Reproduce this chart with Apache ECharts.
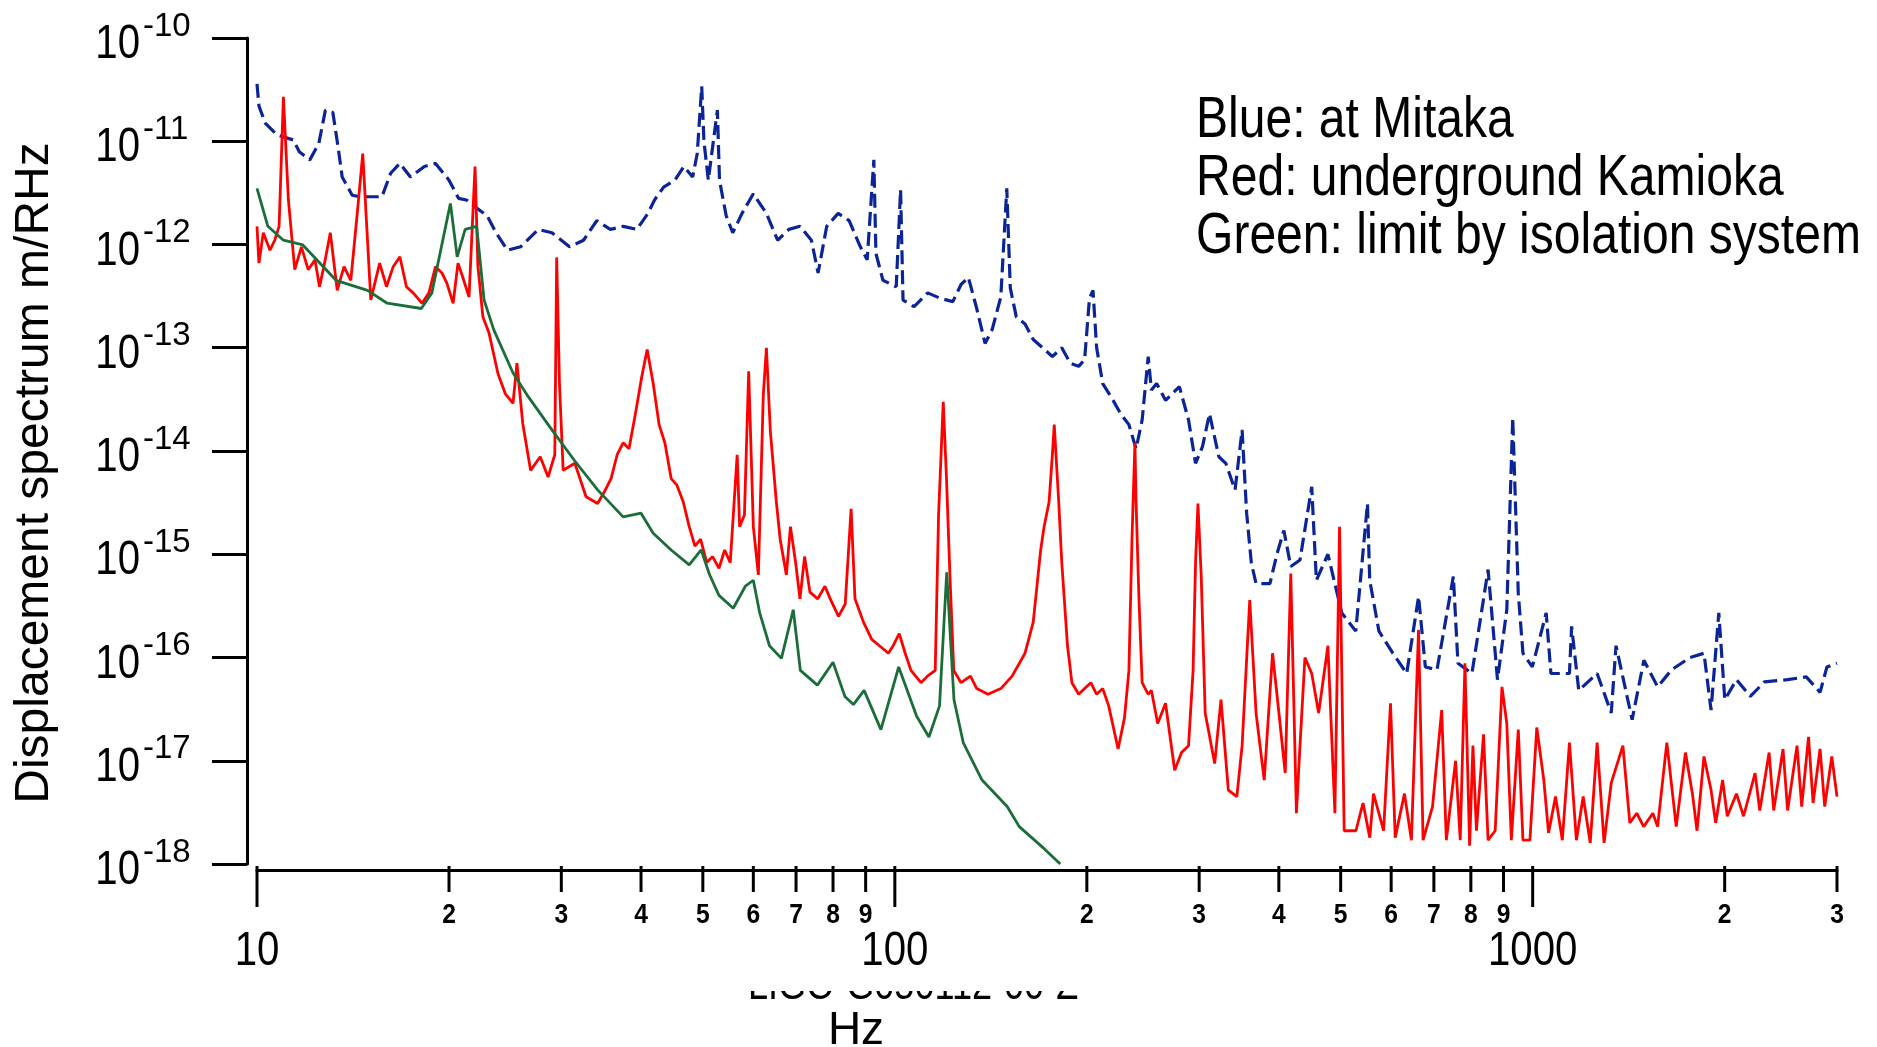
<!DOCTYPE html>
<html>
<head>
<meta charset="utf-8">
<script src="https://cdn.jsdelivr.net/npm/echarts@6/dist/echarts.min.js"></script>
<style>html,body{margin:0;padding:0;background:#fff}#c{width:1877px;height:1047px}</style>
</head>
<body>
<div id="c"></div>
<script>
const SANS = '"Liberation Sans",Arial,sans-serif';

const xRange = [10, 3000];
const yRange = [1e-18, 1e-10];
const xTickFreqs = [10, 20, 30, 40, 50, 60, 70, 80, 90, 100, 200, 300, 400, 500, 600, 700, 800, 900, 1000, 2000, 3000];
const yTickValues = [1e-18, 1e-17, 1e-16, 1e-15, 1e-14, 1e-13, 1e-12, 1e-11, 1e-10];
const legendLines = ['Blue: at Mitaka', 'Red: underground Kamioka', 'Green: limit by isolation system'];
const yTitle = 'Displacement spectrum m/RHz';
const xTitle = 'Hz';
const docId = 'LIGO-G050112-00-Z';

const blueFreq = [10.0, 10.07, 10.3, 10.75, 11.4, 11.65, 12.1, 12.5, 12.8, 13.15,
 13.4, 13.6, 14.1, 14.5, 15.7, 16.2, 16.75, 17.4, 18.3, 19.05,
 20.0, 20.7, 21.3, 22.0, 22.95, 23.7, 24.7, 25.9, 27.6, 29.0,
 30.9, 32.5, 34.1, 35.8, 37.5, 39.4, 41.0, 42.0, 43.4, 45.2,
 46.7, 48.2, 49.0, 49.8, 50.2, 51.0, 52.7, 53.1, 54.4, 55.7,
 57.6, 60.0, 62.9, 65.5, 68.2, 71.0, 74.0, 75.8, 78.2, 81.5,
 84.8, 88.3, 90.5, 92.7, 93.4, 95.8, 100.5, 102.1, 103, 107.2,
 112.6, 118, 123.3, 127, 130.4, 134.4, 138.5, 142.1, 146.6, 149.8,
 151.7, 155, 160, 164.8, 170.5, 176.6, 182.7, 188.4, 194.2, 198.4,
 201.9, 204.5, 207.2, 211.8, 219.2, 225.9, 232.8, 238.9, 244.2, 249.6,
 252.5, 257.3, 265.7, 279.3, 288.7, 296.1, 303.6, 311.4, 322.1, 330.3,
 341.5, 350.3, 356.1, 362.2, 368.4, 387.3, 397.2, 407.3, 417.6, 431.7,
 450.4, 458, 477.5, 502, 528, 550.8, 555.3, 574.1, 603.6, 634.6,
 662.4, 678.8, 707.9, 751, 763.6, 803, 830.9, 851.3, 880.7, 910.8,
 930.6, 949.3, 965.5, 998.7, 1050, 1068, 1142, 1151, 1181, 1262,
 1328, 1351, 1432, 1494, 1570, 1651, 1765, 1856, 1904, 1958,
 2001, 2087, 2194, 2308, 2510, 2685, 2822, 2893, 3000];
const blueAmp = [3.6e-11, 2.2e-11, 1.5e-11, 1.15e-11, 1.03e-11, 7.9e-12, 6.6e-12, 9.5e-12, 2.0e-11, 1.9e-11,
 8.8e-12, 4.5e-12, 3.0e-12, 2.9e-12, 2.9e-12, 4.9e-12, 6.1e-12, 4.5e-12, 5.7e-12, 6.1e-12,
 4.2e-12, 2.8e-12, 2.7e-12, 2.3e-12, 1.9e-12, 1.3e-12, 8.8e-13, 9.5e-13, 1.4e-12, 1.3e-12,
 9.5e-13, 1.1e-12, 1.7e-12, 1.4e-12, 1.5e-12, 1.4e-12, 2.0e-12, 2.7e-12, 3.6e-12, 4.2e-12,
 5.7e-12, 4.5e-12, 7.6e-12, 3.4e-11, 1.0e-11, 4.2e-12, 2.0e-11, 4.2e-12, 1.9e-12, 1.3e-12,
 2.0e-12, 3.1e-12, 2.0e-12, 1.1e-12, 1.4e-12, 1.5e-12, 1.1e-12, 5.3e-13, 1.5e-12, 2.0e-12,
 1.7e-12, 9.5e-13, 7.1e-13, 6.6e-12, 8.2e-13, 4.5e-13, 3.9e-13, 3.4e-12, 2.9e-13, 2.5e-13,
 3.4e-13, 3.0e-13, 2.8e-13, 4.1e-13, 4.8e-13, 2.4e-13, 1.1e-13, 1.5e-13, 3.1e-13, 3.5e-12,
 3.8e-13, 2.0e-13, 1.7e-13, 1.2e-13, 1.0e-13, 8.2e-14, 1.0e-13, 7.1e-14, 6.6e-14, 7.7e-14,
 3.0e-13, 3.6e-13, 1.0e-13, 4.5e-14, 3.2e-14, 2.3e-14, 1.8e-14, 1.05e-14, 2.0e-14, 8.2e-14,
 3.9e-14, 4.5e-14, 3.1e-14, 4.2e-14, 2.0e-14, 7.6e-15, 1.1e-14, 2.3e-14, 8.8e-15, 7.6e-15,
 4.2e-15, 1.6e-14, 2.5e-15, 8.2e-16, 5.2e-16, 5.2e-16, 1.0e-15, 1.7e-15, 7.6e-16, 8.8e-16,
 4.5e-15, 5.6e-16, 1.0e-15, 2.7e-16, 1.8e-16, 3.1e-15, 5.6e-16, 1.8e-16, 1.1e-16, 7.0e-17,
 3.9e-16, 8.1e-17, 7.6e-17, 6.1e-16, 8.8e-17, 7.0e-17, 2.7e-16, 7.1e-16, 6.1e-17, 2.9e-16,
 2.1e-14, 4.2e-16, 1.1e-16, 8.1e-17, 2.7e-16, 7.0e-17, 7.0e-17, 2.0e-16, 4.8e-17, 7.0e-17,
 2.9e-17, 1.3e-16, 2.5e-17, 9.4e-17, 5.2e-17, 7.6e-17, 1.0e-16, 1.1e-16, 3.1e-17, 2.7e-16,
 3.9e-17, 6.1e-17, 4.2e-17, 5.8e-17, 6.1e-17, 6.5e-17, 4.6e-17, 8.1e-17, 8.8e-17];

const redFreq = [10.0, 10.07, 10.23, 10.48, 10.66, 10.83, 11.0, 11.2, 11.46, 11.74,
 12.03, 12.33, 12.53, 12.73, 13.03, 13.36, 13.69, 14.03, 14.36, 14.65,
 14.83, 15.08, 15.57, 15.96, 16.35, 16.75, 17.15, 17.57, 18.15, 18.6,
 19.05, 19.5, 19.85, 20.3, 20.66, 21.0, 21.5, 21.97, 22.2, 22.6,
 23.1, 23.87, 24.5, 25.2, 25.56, 26.1, 26.85, 27.8, 28.6, 29.3,
 29.5, 29.8, 30.2, 31.5, 32.8, 34.2, 35.1, 35.9, 36.7, 37.5,
 38.3, 39.2, 40.1, 40.9, 41.8, 42.7, 43.6, 44.6, 45.5, 46.6,
 47.6, 48.6, 49.6, 50.7, 51.8, 53.0, 54.1, 55.2, 56.6, 57.1,
 58.1, 59.0, 60.0, 61.1, 62.2, 62.9, 63.8, 65.2, 66.1, 67.6,
 68.6, 69.9, 71.0, 72.2, 73.6, 75.7, 77.7, 79.2, 81.6, 83.6,
 85.4, 86.6, 89.3, 92.0, 94.6, 97.7, 99.4, 101.6, 103.8, 106,
 109.9, 112.5, 115.7, 117.1, 119.1, 120.5, 122, 123.7, 127, 131.4,
 134.4, 140, 146.6, 152.7, 160, 164.8, 169.3, 171.4, 174.5, 176.6,
 177.8, 180.7, 182.7, 186.5, 189.5, 194.2, 198.4, 202.9, 207.2, 211.8,
 216.4, 223.9, 229.1, 232.8, 235.4, 237.9, 238.9, 241.4, 244.2, 249.6,
 252.5, 258.3, 265.7, 274.6, 281.5, 288.7, 293.5, 296.1, 298.7, 302.2,
 306.6, 317.3, 324.6, 333.3, 343.7, 350.3, 360.1, 368.4, 379.4, 391,
 400.1, 409.3, 417.6, 426.2, 431.7, 439.5, 450.4, 461.8, 477.5, 489.7,
 498.0, 506.4, 528.3, 542.0, 555.4, 563, 583.8, 598.6, 608.8, 629.5, 645.5,
 662.3, 673.3, 696.6, 720.0, 732.2, 757.1, 769.9, 783.1, 796.4, 806, 816.3,
 837.4, 851.3, 873.4, 895.1, 910.8, 925.9, 949.4, 965.5, 990.1, 1015,
 1041, 1059, 1086, 1113, 1142, 1171, 1200, 1231, 1262, 1294,
 1328, 1385, 1420, 1456, 1493, 1543, 1570, 1623, 1679, 1736,
 1780, 1810, 1856, 1904, 1936, 1985, 2019, 2087, 2141, 2232,
 2270, 2348, 2387, 2469, 2510, 2597, 2641, 2707, 2752, 2822,
 2870, 2944, 3000];
const redAmp = [1.5e-12, 6.6e-13, 1.3e-12, 8.8e-13, 1.1e-12, 1.5e-12, 2.7e-11, 2.7e-12, 5.7e-13, 9.5e-13,
 5.7e-13, 7.1e-13, 3.9e-13, 6.1e-13, 1.3e-12, 3.6e-13, 6.1e-13, 4.5e-13, 2.0e-12, 7.6e-12,
 1.9e-12, 2.9e-13, 6.6e-13, 3.9e-13, 6.1e-13, 7.6e-13, 3.9e-13, 3.4e-13, 2.7e-13, 3.4e-13,
 6.1e-13, 5.3e-13, 4.2e-13, 2.7e-13, 6.6e-13, 4.9e-13, 3.1e-13, 5.7e-12, 6.1e-13, 2.0e-13,
 1.4e-13, 5.6e-14, 3.6e-14, 2.9e-14, 7.1e-14, 1.85e-14, 6.5e-15, 8.8e-15, 5.6e-15, 9.2e-15,
 7.5e-13, 4.5e-14, 6.5e-15, 7.6e-15, 3.6e-15, 3.1e-15, 4.1e-15, 5.4e-15, 9.2e-15, 1.2e-14,
 1.05e-14, 2.3e-14, 5.2e-14, 9.6e-14, 4.5e-14, 1.8e-14, 1.2e-14, 5.4e-15, 4.7e-15, 3.2e-15,
 1.85e-15, 1.2e-15, 1.4e-15, 8.3e-16, 9.5e-16, 7.3e-16, 1.1e-15, 8.3e-16, 9.2e-15, 1.85e-15,
 2.4e-15, 5.9e-14, 1.85e-15, 6.3e-16, 3.5e-14, 1.0e-13, 1.56e-14, 3.2e-15, 1.4e-15, 6.3e-16,
 1.85e-15, 8.3e-16, 3.7e-16, 9.5e-16, 4.3e-16, 3.7e-16, 4.9e-16, 3.7e-16, 2.5e-16, 3.3e-16,
 2.75e-15, 3.7e-16, 2.2e-16, 1.5e-16, 1.3e-16, 1.1e-16, 1.3e-16, 1.7e-16, 1.1e-16, 7.5e-17,
 5.7e-17, 6.6e-17, 7.5e-17, 2.4e-15, 3.0e-14, 5.4e-15, 6.3e-16, 7.5e-17, 5.7e-17, 6.6e-17,
 5.0e-17, 4.4e-17, 5.0e-17, 6.6e-17, 1.1e-16, 2.2e-16, 1.1e-15, 1.85e-15, 3.2e-15, 9.2e-15,
 1.8e-14, 3.2e-15, 8.3e-16, 1.3e-16, 5.7e-17, 4.4e-17, 5.0e-17, 5.7e-17, 4.4e-17, 5.0e-17,
 3.4e-17, 1.3e-17, 2.6e-17, 7.5e-17, 1.4e-15, 1.2e-14, 3.2e-15, 3.7e-16, 5.7e-17, 4.4e-17,
 4.8e-17, 2.3e-17, 3.6e-17, 8.1e-18, 1.2e-17, 1.4e-17, 7.5e-17, 8.3e-16, 3.1e-15, 6.3e-16,
 2.9e-17, 9.4e-18, 3.9e-17, 5.2e-18, 4.5e-18, 1.4e-17, 3.6e-16, 2.9e-17, 6.5e-18, 1.1e-16,
 2.9e-17, 7.6e-18, 6.5e-16, 3.1e-18, 1.4e-17, 1.0e-16, 7.0e-17, 2.9e-17, 1.3e-16, 3.1e-18,
 1.85e-15, 2.1e-18, 2.1e-18, 3.9e-18, 1.8e-18, 4.8e-18, 2.1e-18, 3.6e-17, 1.8e-18, 4.8e-18, 1.7e-18,
 1.85e-16, 1.7e-18, 3.6e-18, 3.1e-17, 1.7e-18, 1.0e-17, 1.7e-18, 8.8e-17, 1.5e-18, 1.4e-17, 2.1e-18,
 1.8e-17, 1.7e-18, 2.1e-18, 5.2e-17, 2.3e-17, 1.7e-18, 2.0e-17, 1.7e-18, 1.7e-18, 2.1e-17,
 6.5e-18, 2.0e-18, 4.5e-18, 1.7e-18, 1.5e-17, 1.7e-18, 4.5e-18, 1.6e-18, 1.5e-17, 1.6e-18,
 6.1e-18, 1.4e-17, 2.5e-18, 3.1e-18, 2.3e-18, 3.1e-18, 2.3e-18, 1.5e-17, 2.3e-18, 1.2e-17,
 4.8e-18, 2.1e-18, 1.1e-17, 5.2e-18, 2.5e-18, 6.5e-18, 2.9e-18, 4.8e-18, 2.9e-18, 7.6e-18,
 3.3e-18, 1.2e-17, 3.3e-18, 1.3e-17, 3.3e-18, 1.4e-17, 3.6e-18, 1.7e-17, 3.9e-18, 1.3e-17,
 3.6e-18, 1.1e-17, 4.5e-18];

const greenFreq = [10.0, 10.4, 11.0, 11.8, 13.3, 14.9, 16.0, 18.1, 18.8, 20.1,
 20.6, 21.2, 22.1, 22.7, 23.5, 25.2, 26.5, 29.0, 31.5, 34.2,
 37.5, 40.0, 41.8, 44.6, 47.6, 49.7, 51.2, 53.0, 55.8, 58.3,
 60.0, 61.4, 63.6, 66.4, 69.3, 71.1, 75.6, 80.0, 83.5, 86.1,
 89.5, 95.1, 101.4, 108.2, 113.1, 117.5, 120.6, 123.8, 128, 137,
 150, 156.7, 171.6, 181.7];
const greenAmp = [3.5e-12, 1.5e-12, 1.1e-12, 9.9e-13, 4.5e-13, 3.6e-13, 2.7e-13, 2.4e-13, 3.4e-13, 2.5e-12,
 7.6e-13, 1.4e-12, 1.5e-12, 2.9e-13, 1.5e-13, 5.7e-14, 3.5e-14, 1.6e-14, 8.0e-15, 4.2e-15,
 2.3e-15, 2.5e-15, 1.6e-15, 1.1e-15, 7.9e-16, 1.1e-15, 6.4e-16, 4.0e-16, 3.0e-16, 4.9e-16,
 5.6e-16, 2.7e-16, 1.3e-16, 9.8e-17, 2.9e-16, 7.5e-17, 5.4e-17, 9.0e-17, 4.2e-17, 3.5e-17,
 4.8e-17, 2.0e-17, 8.1e-17, 2.7e-17, 1.7e-17, 3.4e-17, 6.7e-16, 3.9e-17, 1.5e-17, 6.5e-18,
 3.6e-18, 2.3e-18, 1.4e-18, 1.0e-18];

function pairs(f, a) { return f.map((x, i) => [x, a[i]]); }
function isDecade(v) { const l = Math.log10(v); return Math.abs(l - Math.round(l)) < 1e-6; }

const chart = echarts.init(document.getElementById('c'), null, { renderer: 'canvas', width: 1877, height: 1047 });

const option = {
  animation: false,
  backgroundColor: '#ffffff',
  grid: { left: 257, right: 40, top: 38, bottom: 183, containLabel: false, outerBoundsMode: 'none' },
  xAxis: {
    type: 'log', logBase: 10, min: xRange[0], max: xRange[1], position: 'bottom', offset: 6,
    axisLine: { show: true, onZero: false, lineStyle: { color: '#000', width: 3 } },
    axisTick: { show: false }, minorTick: { show: false }, splitLine: { show: false },
    axisLabel: { show: false }
  },
  yAxis: {
    type: 'log', logBase: 10, min: yRange[0], max: yRange[1], position: 'left', offset: 10, splitNumber: 8,
    axisLine: { show: true, onZero: false, lineStyle: { color: '#000', width: 3 } },
    axisTick: { show: true, length: 35, lineStyle: { color: '#000', width: 3 } },
    minorTick: { show: false }, splitLine: { show: false },
    axisLabel: { show: false }
  },
  graphic: [
    { type: 'text', x: 1196, y: 92, z: 50, scaleX: 0.843,
      style: { text: legendLines.join('\n'), x: 0, y: 0, font: '57px ' + SANS, lineHeight: 58, fill: '#000', align: 'left', verticalAlign: 'top' } },
    { type: 'text', x: 35, y: 473, rotation: Math.PI / 2, z: 50,
      style: { text: yTitle, x: 0, y: 0, font: '48px ' + SANS, fill: '#000', align: 'center', verticalAlign: 'middle' } },
    { type: 'text', x: 856, y: 1031, z: 50,
      style: { text: xTitle, x: 0, y: 0, font: '46px ' + SANS, fill: '#000', align: 'center', verticalAlign: 'middle' } },
    { type: 'text', x: 748, y: 987, z: 50, scaleX: 0.82,
      style: { text: docId, x: 0, y: 0, font: '44px ' + SANS, fill: '#000', align: 'left', verticalAlign: 'middle' } },
    { type: 'rect', z: 60, shape: { x: 735, y: 966, width: 380, height: 25 }, style: { fill: '#ffffff' } }
  ],
  series: [
    { name: 'Blue: at Mitaka', type: 'line', data: pairs(blueFreq, blueAmp), showSymbol: false, z: 2,
      lineStyle: { color: '#0c2596', width: 3.2, type: [14, 6] } },
    { name: 'Red: underground Kamioka', type: 'line', data: pairs(redFreq, redAmp), showSymbol: false, z: 3,
      lineStyle: { color: '#ff0000', width: 2.8 } },
    { name: 'Green: limit by isolation system', type: 'line', data: pairs(greenFreq, greenAmp), showSymbol: false, z: 4,
      lineStyle: { color: '#1b6e3a', width: 2.8 } },
    { name: 'xticks', type: 'custom', clip: false, silent: true, z: 10,
      data: xTickFreqs.map(f => [f, yRange[0]]),
      encode: { x: 0, y: 1 },
      renderItem: function (params, api) {
        const f = api.value(0);
        const p = api.coord([f, yRange[0]]);
        const major = isDecade(f);
        const children = [{ type: 'line', shape: { x1: p[0], y1: p[1] + 2, x2: p[0], y2: p[1] + (major ? 43 : 28) },
          style: { stroke: '#000', lineWidth: 3 } }];
        if (major) {
          children.push({ type: 'text', x: p[0], y: p[1] + 87, scaleX: 0.82,
            style: { text: String(Math.round(f)), x: 0, y: 0, align: 'center', verticalAlign: 'middle', font: '49px ' + SANS, fill: '#000' } });
        } else {
          const lead = Math.round(f / Math.pow(10, Math.floor(Math.log10(f) + 1e-9)));
          children.push({ type: 'text', x: p[0], y: p[1] + 51, scaleX: 0.88,
            style: { text: String(lead), x: 0, y: 0, align: 'center', verticalAlign: 'middle', font: 'bold 28px ' + SANS, fill: '#000' } });
        }
        return { type: 'group', children: children };
      }
    },
    { name: 'ylabels', type: 'custom', clip: false, silent: true, z: 10,
      data: yTickValues.map(v => [xRange[0], v]),
      encode: { x: 0, y: 1 },
      renderItem: function (params, api) {
        const v = api.value(1);
        const p = api.coord([xRange[0], v]);
        const e = Math.round(Math.log10(v));
        return { type: 'group', children: [
          { type: 'text', x: p[0] - 117, y: p[1] + 6.5, scaleX: 0.82,
            style: { text: '10', x: 0, y: 0, align: 'right', verticalAlign: 'middle', font: '49px ' + SANS, fill: '#000' } },
          { type: 'text', x: p[0] - 114, y: p[1] - 11.5,
            style: { text: String(e), x: 0, y: 0, align: 'left', verticalAlign: 'middle', font: '33px ' + SANS, fill: '#000' } }
        ] };
      }
    }
  ]
};
chart.setOption(option);
</script>
</body>
</html>
